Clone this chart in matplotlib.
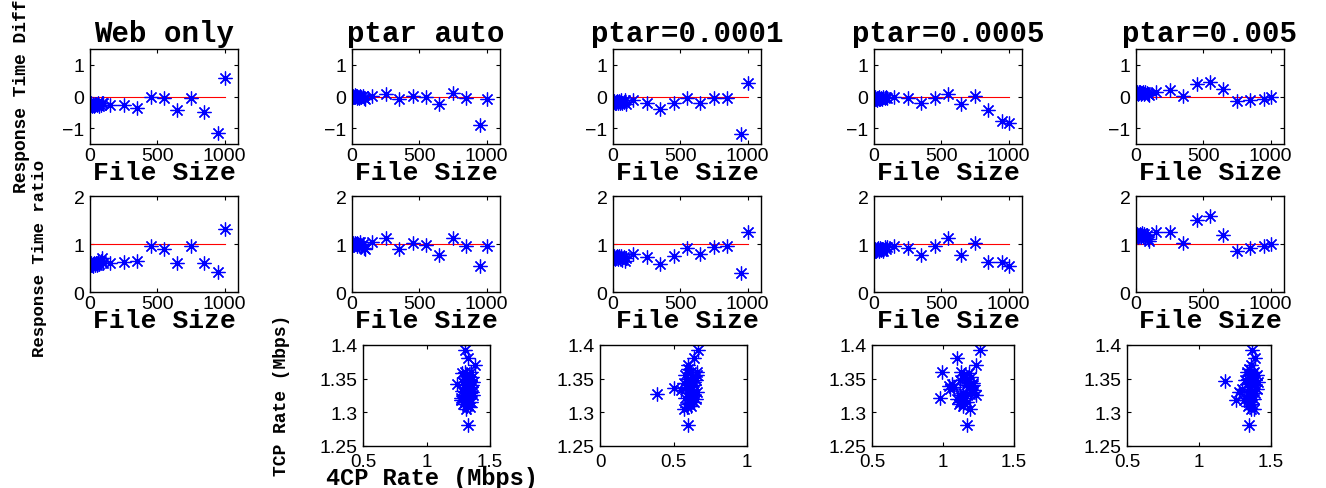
import matplotlib
matplotlib.use("Agg")
import matplotlib.pyplot as plt

plt.rcParams['font.family'] = ['Liberation Sans', 'DejaVu Sans']

# data
titles = ["Web only", "ptar auto", "ptar=0.0001", "ptar=0.0005", "ptar=0.005"]

file_sizes = [1, 5, 10, 15, 20, 25, 30, 35, 40, 45, 50, 60, 70, 80, 90, 100,
              150, 250, 350, 450, 550, 650, 750, 850, 950, 1000]

diff_web = [-0.25, -0.27, -0.22, -0.29, -0.24, -0.26, -0.30, -0.23, -0.27, -0.25, -0.28, -0.22, -0.30, -0.26, -0.20, -0.19,
            -0.27, -0.27, -0.35, 0.00, -0.06, -0.42, -0.04, -0.50, -1.15, 0.58]
diff_auto = [0.02, -0.02, 0.03, 0.00, -0.03, 0.04, 0.01, -0.04, 0.02, 0.00, -0.05, 0.03, -0.02, 0.01, -0.06, -0.08,
             0.02, 0.09, -0.08, 0.02, -0.01, -0.24, 0.12, -0.05, -0.90, -0.08]
diff_p0001 = [-0.15, -0.18, -0.13, -0.20, -0.16, -0.19, -0.14, -0.21, -0.17, -0.15, -0.20, -0.12, -0.22, -0.16, -0.10, -0.25,
              -0.10, -0.21, -0.40, -0.21, -0.05, -0.21, -0.05, -0.04, -1.18, 0.44]
diff_p0005 = [-0.05, -0.08, -0.03, -0.07, -0.10, -0.04, -0.06, -0.09, -0.02, -0.07, -0.05, -0.08, -0.03, -0.06, -0.01, -0.04,
              -0.01, -0.06, -0.22, -0.05, 0.09, -0.23, 0.02, -0.43, -0.76, -0.85]
diff_p005 = [0.12, 0.10, 0.14, 0.08, 0.13, 0.11, 0.15, 0.09, 0.12, 0.10, 0.14, 0.07, 0.13, 0.11, 0.09, 0.06,
             0.15, 0.20, 0.02, 0.41, 0.47, 0.23, -0.14, -0.12, -0.08, 0.00]

ratio_web = [0.58, 0.56, 0.60, 0.57, 0.59, 0.55, 0.61, 0.58, 0.57, 0.60, 0.56, 0.62, 0.58, 0.64, 0.70, 0.60,
             0.61, 0.63, 0.65, 0.96, 0.89, 0.61, 0.95, 0.60, 0.41, 1.32]
ratio_auto = [1.00, 0.98, 1.02, 0.97, 1.01, 1.03, 0.99, 0.96, 1.02, 1.00, 0.97, 1.04, 0.95, 1.01, 0.92, 0.89,
              1.05, 1.12, 0.90, 1.02, 0.97, 0.78, 1.12, 0.95, 0.54, 0.95]
ratio_p0001 = [0.72, 0.70, 0.74, 0.69, 0.73, 0.71, 0.75, 0.68, 0.72, 0.76, 0.70, 0.74, 0.67, 0.73, 0.65, 0.70,
               0.80, 0.72, 0.58, 0.75, 0.91, 0.80, 0.93, 0.96, 0.39, 1.24]
ratio_p0005 = [0.88, 0.86, 0.90, 0.85, 0.89, 0.87, 0.91, 0.86, 0.88, 0.92, 0.87, 0.90, 0.85, 0.93, 0.89, 0.94,
               0.96, 0.91, 0.77, 0.95, 1.12, 0.77, 1.02, 0.63, 0.62, 0.54]
ratio_p005 = [1.18, 1.16, 1.20, 1.15, 1.19, 1.17, 1.21, 1.14, 1.18, 1.22, 1.16, 1.20, 1.13, 1.19, 1.10, 1.07,
              1.25, 1.25, 1.03, 1.49, 1.59, 1.19, 0.86, 0.91, 0.96, 1.00]

# 4CP rate vs TCP rate (Mbps)
fcp_auto = [1.30, 1.33, 1.38, 1.24, 1.33, 1.30, 1.35, 1.28, 1.32, 1.36, 1.31, 1.34, 1.29, 1.37, 1.33, 1.30, 1.35,
            1.32, 1.28, 1.36, 1.34, 1.31, 1.37, 1.27, 1.33, 1.30, 1.35, 1.29, 1.32, 1.31, 1.34, 1.36, 1.33, 1.30, 1.27]
tcp_auto = [1.393, 1.380, 1.370, 1.342, 1.281, 1.360, 1.360, 1.358, 1.355, 1.352, 1.350, 1.348, 1.345, 1.345, 1.342,
            1.340, 1.338, 1.335, 1.332, 1.330, 1.328, 1.325, 1.325, 1.322, 1.320, 1.318, 1.315, 1.312, 1.310, 1.305,
            1.308, 1.340, 1.350, 1.330, 1.318]
fcp_p0001 = [0.67, 0.64, 0.60, 0.39, 0.50, 0.60, 0.57, 0.66, 0.62, 0.58, 0.63, 0.60, 0.65, 0.61, 0.57, 0.64, 0.59,
             0.62, 0.55, 0.66, 0.60, 0.63, 0.58, 0.65, 0.61, 0.64, 0.60, 0.62, 0.59, 0.63, 0.61, 0.60, 0.64, 0.62, 0.66]
tcp_p0001 = [1.393, 1.380, 1.370, 1.327, 1.336, 1.281, 1.305, 1.360, 1.360, 1.355, 1.352, 1.350, 1.348, 1.345, 1.343,
             1.340, 1.338, 1.335, 1.333, 1.330, 1.328, 1.325, 1.322, 1.320, 1.318, 1.315, 1.312, 1.310, 1.308, 1.330,
             1.340, 1.365, 1.345, 1.322, 1.355]
fcp_p0005 = [1.26, 1.10, 1.23, 0.99, 0.98, 1.04, 1.17, 1.19, 1.13, 1.18, 1.15, 1.20, 1.12, 1.17, 1.21, 1.06, 1.05,
             1.19, 1.22, 1.16, 1.14, 1.20, 1.23, 1.12, 1.15, 1.10, 1.13, 1.17, 1.11, 1.14, 1.19, 1.21, 1.16, 1.12, 1.08]
tcp_p0005 = [1.393, 1.380, 1.370, 1.360, 1.322, 1.339, 1.281, 1.305, 1.360, 1.358, 1.355, 1.352, 1.348, 1.345, 1.343,
             1.342, 1.335, 1.338, 1.333, 1.340, 1.328, 1.330, 1.326, 1.325, 1.322, 1.320, 1.318, 1.315, 1.312, 1.310,
             1.327, 1.340, 1.350, 1.315, 1.338]
fcp_p005 = [1.37, 1.39, 1.18, 1.35, 1.26, 1.36, 1.33, 1.38, 1.40, 1.35, 1.37, 1.34, 1.39, 1.36, 1.41, 1.33, 1.38,
            1.35, 1.30, 1.40, 1.37, 1.34, 1.28, 1.39, 1.36, 1.33, 1.38, 1.31, 1.35, 1.37, 1.34, 1.36, 1.35, 1.32, 1.38]
tcp_p005 = [1.393, 1.380, 1.346, 1.281, 1.318, 1.370, 1.360, 1.360, 1.356, 1.355, 1.352, 1.350, 1.348, 1.345, 1.345,
            1.342, 1.340, 1.338, 1.335, 1.335, 1.332, 1.330, 1.330, 1.328, 1.325, 1.322, 1.320, 1.318, 1.315, 1.312,
            1.310, 1.305, 1.365, 1.348, 1.305]

diffs = [diff_web, diff_auto, diff_p0001, diff_p0005, diff_p005]
ratios = [ratio_web, ratio_auto, ratio_p0001, ratio_p0005, ratio_p005]
rates = [(fcp_auto, tcp_auto), (fcp_p0001, tcp_p0001), (fcp_p0005, tcp_p0005), (fcp_p005, tcp_p005)]
rate_xlims = [(0.5, 1.5), (0, 1), (0.5, 1.5), (0.5, 1.5)]

W, H = 1326, 489
fig = plt.figure(figsize=(W / 100, H / 100), dpi=100)

mono = dict(family='Liberation Mono', weight='bold')
star = (8, 2, 0)
tick_fs = 14


def px_axes(left, top, right, bottom):
    return fig.add_axes([left / W, 1 - bottom / H, (right - left) / W, (bottom - top) / H])


def style(ax):
    ax.tick_params(direction='in', top=True, right=True, labelsize=tick_fs, length=3, pad=4)
    for s in ax.spines.values():
        s.set_linewidth(1.0)


lefts = [90, 352, 613, 874, 1136]
for i in range(5):
    # response time difference
    ax = px_axes(lefts[i], 50, lefts[i] + 148, 145)
    ax.plot([0, 1000], [0, 0], color='red', lw=0.8)
    ax.plot(file_sizes, diffs[i], ls='none', marker=star, ms=10, mew=0.9, color='blue')
    ax.set_xlim(0, 1100)
    ax.set_ylim(-1.5, 1.5)
    ax.set_xticks([0, 500, 1000])
    ax.set_yticks([-1, 0, 1])
    style(ax)
    ax.tick_params(axis='x', pad=2)
    ax.set_title(titles[i], fontsize=21, pad=6, **mono)
    ax.set_xlabel("File Size", fontsize=19, labelpad=-3, **mono)

    # response time ratio
    ax = px_axes(lefts[i], 197, lefts[i] + 148, 293)
    ax.plot([0, 1000], [1, 1], color='red', lw=0.8)
    ax.plot(file_sizes, ratios[i], ls='none', marker=star, ms=10, mew=0.9, color='blue')
    ax.set_xlim(0, 1100)
    ax.set_ylim(0, 2)
    ax.set_xticks([0, 500, 1000])
    ax.set_yticks([0, 1, 2])
    style(ax)
    ax.tick_params(axis='x', pad=2)
    ax.set_xlabel("File Size", fontsize=19, labelpad=-3, **mono)

# rate scatter, no panel under "Web only"
rate_box = [(363, 490), (600, 747), (872, 1014), (1127, 1271)]
for j in range(4):
    l, r = rate_box[j]
    ax = px_axes(l, 346, r, 447)
    ax.plot(rates[j][0], rates[j][1], ls='none', marker=star, ms=10, mew=0.9, color='blue')
    ax.set_xlim(*rate_xlims[j])
    ax.set_ylim(1.25, 1.4)
    ax.set_yticks([1.25, 1.3, 1.35, 1.4])
    ax.set_yticklabels(["1.25", "1.3", "1.35", "1.4"])
    if j == 1:
        ax.set_xticks([0, 0.5, 1])
        ax.set_xticklabels(["0", "0.5", "1"])
    else:
        ax.set_xticks([0.5, 1, 1.5])
        ax.set_xticklabels(["0.5", "1", "1.5"])
    style(ax)
    ax.tick_params(axis='x', pad=5, labelsize=13.5)

fig.text(22 / W, 1 - 96 / H, "Response Time Diff", rotation=90, ha='center', va='center', fontsize=13, **mono)
fig.text(40 / W, 1 - 258 / H, "Response Time ratio", rotation=90, ha='center', va='center', fontsize=12.5, **mono)
fig.text(282 / W, 1 - 395 / H, "TCP Rate (Mbps)", rotation=90, ha='center', va='center', fontsize=13, **mono)
fig.text(432 / W, 1 - 479 / H, "4CP Rate (Mbps)", ha='center', va='center', fontsize=17, **mono)

fig.savefig("out.png", dpi=100)
